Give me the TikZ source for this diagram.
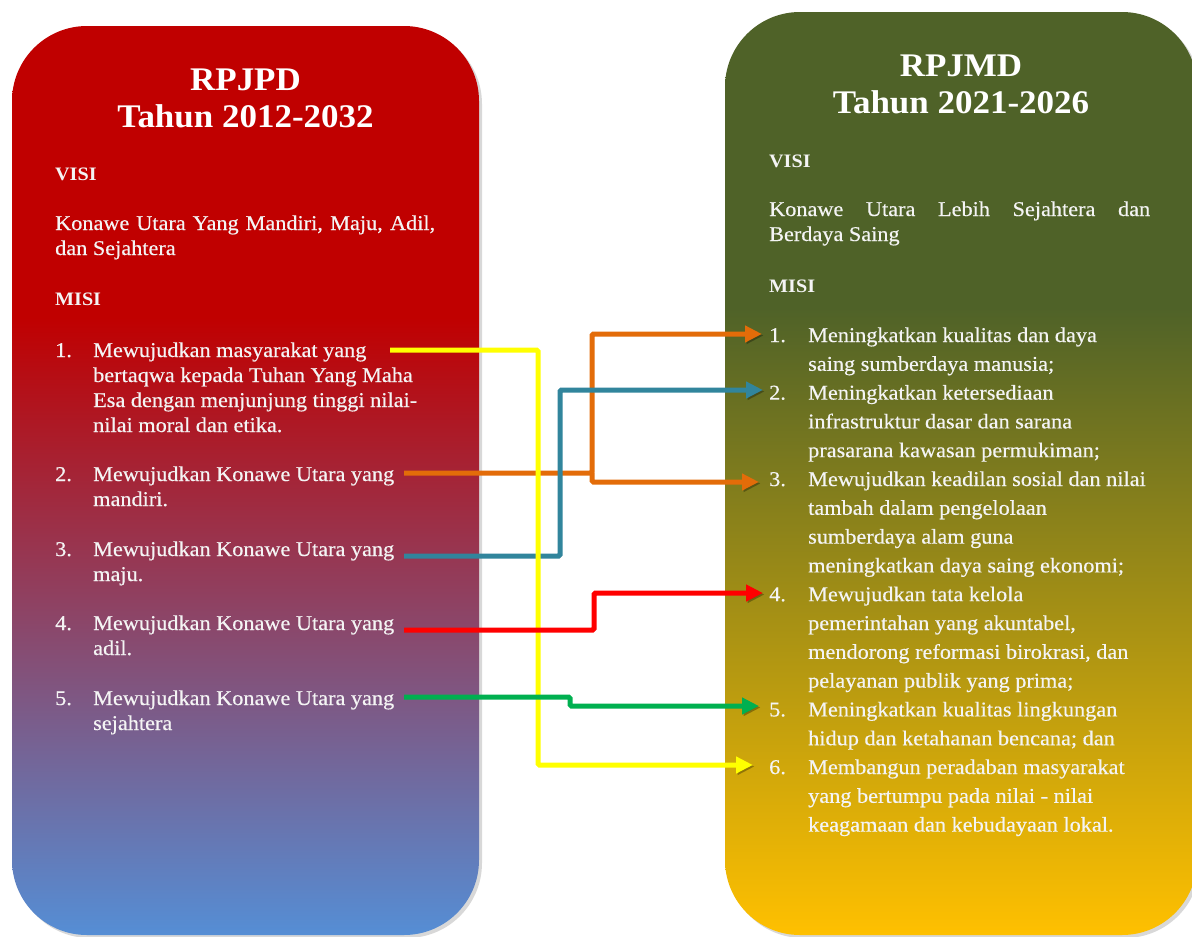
\documentclass[tikz,border=0pt]{standalone}
\usepackage{fontspec}
\setmainfont{Liberation Serif}[FakeStretch=1.06, UprightFeatures={FakeBold=0.4}]
\usetikzlibrary{arrows.meta,shadows}

\definecolor{redtop}{HTML}{C00000}
\definecolor{bluebot}{HTML}{558ED5}
\definecolor{olivetop}{HTML}{4F6228}
\definecolor{goldbot}{HTML}{FFC000}
\definecolor{txt}{HTML}{F4F4F4}
\definecolor{worange}{HTML}{E36C09}
\definecolor{wteal}{HTML}{31859C}
\definecolor{wred}{HTML}{FF0000}
\definecolor{wgreen}{HTML}{00B050}
\definecolor{wyellow}{HTML}{FFFF00}

% panel fills: flat colour in the upper part, gradient below
\pgfdeclareverticalshading{rpjpdfill}{100bp}{color(0bp)=(bluebot); color(25bp)=(bluebot); color(59bp)=(redtop); color(100bp)=(redtop)}
\pgfdeclareverticalshading{rpjmdfill}{100bp}{color(0bp)=(goldbot); color(25bp)=(goldbot); color(59bp)=(olivetop); color(100bp)=(olivetop)}

% numbered entry: number in a fixed column, then the wrapped text
\newcommand\misientry[3]{\makebox[#1][l]{#2}\parbox[t]{370pt}{\raggedright #3}}

\begin{document}
\begin{tikzpicture}[x=1pt,y=-1pt,
  panel/.style={rounded corners=75pt, drop shadow={shadow xshift=3pt,shadow yshift=-3pt,opacity=.3}},
  title/.style={font=\fontsize{33}{37.5}\bfseries\selectfont, text=white, inner sep=0, anchor=base},
  head/.style={font=\fontsize{19}{25}\bfseries\selectfont, text=txt, inner sep=0, anchor=base west},
  body/.style={font=\fontsize{21}{25}\selectfont, text=txt, inner sep=0, anchor=base west},
  ritem/.style={body, font=\fontsize{21}{28.8}\selectfont},
  wire/.style={draw=#1, line width=5pt, rounded corners=1.5pt,
    -{Triangle[length=17pt,width=16pt]},
    preaction={draw=black, opacity=.3, transform canvas={shift={(1.5pt,-1.5pt)}}}}]

\useasboundingbox (0,0) rectangle (1192,937);
\fill[white] (0,0) rectangle (1192,937);

% the two panels
\shade[panel, shading=rpjpdfill] (12,26) rectangle (479,935);
\shade[panel, shading=rpjmdfill] (725,12) rectangle (1197,935);

% RPJPD panel
\node[title] (ltitle) at (245.5,90) {\parbox[t]{440pt}{\centering RPJPD\\Tahun 2012-2032}};
\node[head] (lvisi) at (55,180) {VISI};
\node[body] (lvisitext) at (55,230) {\parbox[t]{380pt}{\makebox[380pt][s]{Konawe Utara Yang Mandiri, Maju, Adil,}\\dan Sejahtera}};
\node[head] (lmisi) at (55,305) {MISI};
\node[body] (l1) at (55,357) {\misientry{38pt}{1.}{Mewujudkan masyarakat yang\\bertaqwa kepada Tuhan Yang Maha\\Esa dengan menjunjung tinggi nilai-\\nilai moral dan etika.}};
\node[body] (l2) at (55,481) {\misientry{38pt}{2.}{Mewujudkan Konawe Utara yang\\mandiri.}};
\node[body] (l3) at (55,556) {\misientry{38pt}{3.}{Mewujudkan Konawe Utara yang\\maju.}};
\node[body] (l4) at (55,630) {\misientry{38pt}{4.}{Mewujudkan Konawe Utara yang\\adil.}};
\node[body] (l5) at (55,705) {\misientry{38pt}{5.}{Mewujudkan Konawe Utara yang\\sejahtera}};

% RPJMD panel
\node[title] (rtitle) at (961,76) {\parbox[t]{440pt}{\centering RPJMD\\Tahun 2021-2026}};
\node[head] (rvisi) at (769,167) {VISI};
\node[body] (rvisitext) at (769,216) {\parbox[t]{381pt}{\makebox[381pt][s]{Konawe Utara Lebih Sejahtera dan}\\Berdaya Saing}};
\node[head] (rmisi) at (769,292) {MISI};
\node[ritem] (r1) at (769,342) {\misientry{39pt}{1.}{Meningkatkan kualitas dan daya\\saing sumberdaya manusia;}};
\node[ritem] (r2) at (769,399.6) {\misientry{39pt}{2.}{Meningkatkan ketersediaan\\infrastruktur dasar dan sarana\\prasarana kawasan permukiman;}};
\node[ritem] (r3) at (769,486) {\misientry{39pt}{3.}{Mewujudkan keadilan sosial dan nilai\\tambah dalam pengelolaan\\sumberdaya alam guna\\meningkatkan daya saing ekonomi;}};
\node[ritem] (r4) at (769,601.2) {\misientry{39pt}{4.}{Mewujudkan tata kelola\\pemerintahan yang akuntabel,\\mendorong reformasi birokrasi, dan\\pelayanan publik yang prima;}};
\node[ritem] (r5) at (769,716.4) {\misientry{39pt}{5.}{Meningkatkan kualitas lingkungan\\hidup dan ketahanan bencana; dan}};
\node[ritem] (r6) at (769,774) {\misientry{39pt}{6.}{Membangun peradaban masyarakat\\yang bertumpu pada nilai - nilai\\keagamaan dan kebudayaan lokal.}};

% connector ends: after each left entry, before each right number
\coordinate (s1) at (390,350);
\coordinate (s2) at (404,473);
\coordinate (s3) at (404,556);
\coordinate (s4) at (404,630);
\coordinate (s5) at (404,697);
\coordinate (e1) at (762,334);
\coordinate (e2) at (763,390);
\coordinate (e3) at (759,482);
\coordinate (e4) at (763,593);
\coordinate (e5) at (759,706);
\coordinate (e6) at (753,765);

% connectors
\draw[wire=worange] (s2) -- ++(188,0) coordinate (oj) |- (e1);
\draw[wire=worange] (oj) |- (e3);
\draw[wire=wteal] (s3) -- ++(156,0) |- (e2);
\draw[wire=wyellow] (s1) -- ++(148,0) |- (e6);
\draw[wire=wred] (s4) -- ++(190,0) |- (e4);
\draw[wire=wgreen] (s5) -- ++(166,0) |- (e5);
\end{tikzpicture}
\end{document}
